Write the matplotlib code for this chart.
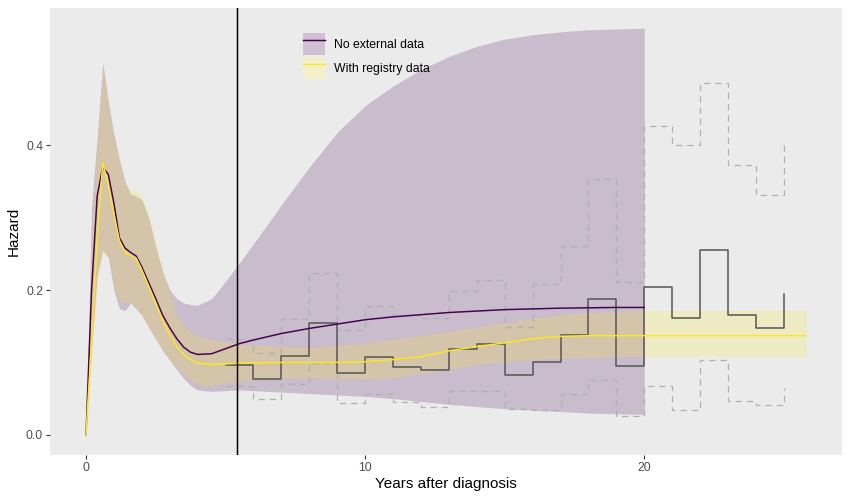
#!/usr/bin/env python3

import matplotlib
matplotlib.use("Agg")
import matplotlib.pyplot as plt
from matplotlib.patches import Patch
from matplotlib.lines import Line2D
from matplotlib.legend_handler import HandlerTuple

plt.rcParams['font.family'] = ['Liberation Sans', 'DejaVu Sans']

# model curves
years = [0, 0.2, 0.4, 0.6, 0.8, 1.0, 1.2, 1.4, 1.6, 1.8, 2.0, 2.25, 2.5, 2.75,
         3.0, 3.25, 3.5, 3.75, 4.0, 4.5, 5.0, 5.5, 6, 7, 8, 9, 10, 11, 12, 13,
         14, 15, 16, 17, 18, 19, 20]
years_reg = years + [25.8]

noext_mid = [0.0, 0.20, 0.33, 0.37, 0.36, 0.32, 0.272, 0.258, 0.252, 0.247,
             0.232, 0.21, 0.188, 0.165, 0.148, 0.133, 0.121, 0.114, 0.111,
             0.112, 0.119, 0.126, 0.131, 0.140, 0.147, 0.153, 0.159, 0.163,
             0.166, 0.169, 0.171, 0.173, 0.174, 0.175, 0.1755, 0.176, 0.176]
noext_lo = [0.0, 0.12, 0.22, 0.255, 0.245, 0.20, 0.174, 0.172, 0.182, 0.174,
            0.165, 0.148, 0.132, 0.116, 0.103, 0.090, 0.078, 0.068, 0.062,
            0.060, 0.061, 0.062, 0.061, 0.059, 0.057, 0.055, 0.053, 0.050,
            0.046, 0.042, 0.039, 0.036, 0.034, 0.032, 0.030, 0.029, 0.028]
noext_hi = [0.0, 0.315, 0.41, 0.515, 0.46, 0.415, 0.38, 0.35, 0.333, 0.33,
            0.325, 0.30, 0.26, 0.225, 0.20, 0.188, 0.182, 0.180, 0.179,
            0.188, 0.212, 0.238, 0.264, 0.318, 0.37, 0.418, 0.455, 0.482,
            0.505, 0.523, 0.537, 0.547, 0.553, 0.557, 0.56, 0.561, 0.562]

reg_mid = [0.0, 0.13, 0.27, 0.376, 0.345, 0.305, 0.268, 0.252, 0.248, 0.244,
           0.228, 0.205, 0.182, 0.158, 0.138, 0.122, 0.111, 0.104, 0.099,
           0.097, 0.098, 0.099, 0.0995, 0.100, 0.100, 0.100, 0.101, 0.104,
           0.108, 0.116, 0.122, 0.127, 0.133, 0.136, 0.137, 0.137, 0.137,
           0.137]
reg_lo = [0.0, 0.10, 0.21, 0.25, 0.245, 0.205, 0.185, 0.183, 0.183, 0.175,
          0.165, 0.148, 0.132, 0.117, 0.104, 0.093, 0.084, 0.076, 0.069,
          0.068, 0.071, 0.074, 0.076, 0.078, 0.079, 0.078, 0.077, 0.079,
          0.084, 0.091, 0.097, 0.101, 0.104, 0.106, 0.107, 0.108, 0.108,
          0.108]
reg_hi = [0.0, 0.28, 0.40, 0.51, 0.455, 0.41, 0.378, 0.35, 0.338, 0.338,
          0.33, 0.305, 0.265, 0.228, 0.195, 0.165, 0.151, 0.142, 0.136,
          0.132, 0.129, 0.126, 0.124, 0.122, 0.121, 0.123, 0.127, 0.132,
          0.137, 0.143, 0.149, 0.155, 0.161, 0.166, 0.169, 0.171, 0.172,
          0.173]

# observed hazard, yearly intervals from 5 to 25
obs_t = list(range(5, 26))
obs_haz = [0.097, 0.077, 0.109, 0.154, 0.086, 0.108, 0.094, 0.089, 0.119,
           0.125, 0.082, 0.100, 0.138, 0.187, 0.095, 0.204, 0.162, 0.255,
           0.166, 0.148, 0.195]
obs_lo = [0.067, 0.049, 0.070, 0.099, 0.044, 0.057, 0.045, 0.038, 0.060,
          0.060, 0.035, 0.034, 0.057, 0.076, 0.026, 0.068, 0.034, 0.104,
          0.046, 0.041, 0.064]
obs_hi = [0.132, 0.113, 0.160, 0.223, 0.145, 0.178, 0.166, 0.162, 0.199,
          0.214, 0.149, 0.208, 0.261, 0.354, 0.211, 0.427, 0.401, 0.486,
          0.373, 0.331, 0.405]

cutoff = 5.42
labels = ['No external data', 'With registry data']

purple = '#440154'
yellow = '#FDE725'

fig = plt.figure(figsize=(8.5, 5), dpi=100)
ax = fig.add_axes([0.0588, 0.09, 0.932, 0.894])
ax.set_facecolor('#EBEBEB')

ax.fill_between(years, noext_lo, noext_hi, color=purple, alpha=0.2, lw=0)
ax.fill_between(years_reg, reg_lo, reg_hi, color=yellow, alpha=0.2, lw=0)

ax.step(obs_t, obs_hi, where='post', color='#B0B0B0', lw=0.9, dashes=(5, 4))
ax.step(obs_t, obs_lo, where='post', color='#B0B0B0', lw=0.9, dashes=(5, 4))
ax.step(obs_t, obs_haz, where='post', color='#555555', lw=1.1)

ax.plot(years, noext_mid, color=purple, lw=1.07)
ax.plot(years_reg, reg_mid, color=yellow, lw=1.07)

ax.axvline(cutoff, color='black', lw=1.07)

ax.set_xlim(-1.29, 27.09)
ax.set_ylim(-0.028, 0.59)
ax.set_xticks([0, 10, 20])
ax.set_yticks([0.0, 0.2, 0.4])
ax.set_yticklabels(['0.0', '0.2', '0.4'])
ax.tick_params(colors='#333333', labelcolor='#4D4D4D', labelsize=8.8,
               length=2.75, width=0.8, pad=2.2)
for s in ax.spines.values():
  s.set_visible(False)

ax.set_xlabel('Years after diagnosis', fontsize=11, labelpad=2.5)
ax.set_ylabel('Hazard', fontsize=11, labelpad=4)

handles = []
for col in [purple, yellow]:
  bg = Patch(facecolor='#F2F2F2', edgecolor='none')
  fill = Patch(facecolor=col, alpha=0.2, edgecolor='none')
  ln = Line2D([], [], color=col, lw=1.07)
  handles.append((bg, fill, ln))

ax.legend(handles, labels, handler_map={tuple: HandlerTuple(ndivide=1, pad=0)},
          loc='upper left', bbox_to_anchor=(0.319, 0.9447), frameon=False,
          fontsize=8.8, handlelength=1.85, handleheight=2.47, labelspacing=0.11,
          handletextpad=0.71, borderpad=0, borderaxespad=0)

fig.savefig('out.png', dpi=100)
